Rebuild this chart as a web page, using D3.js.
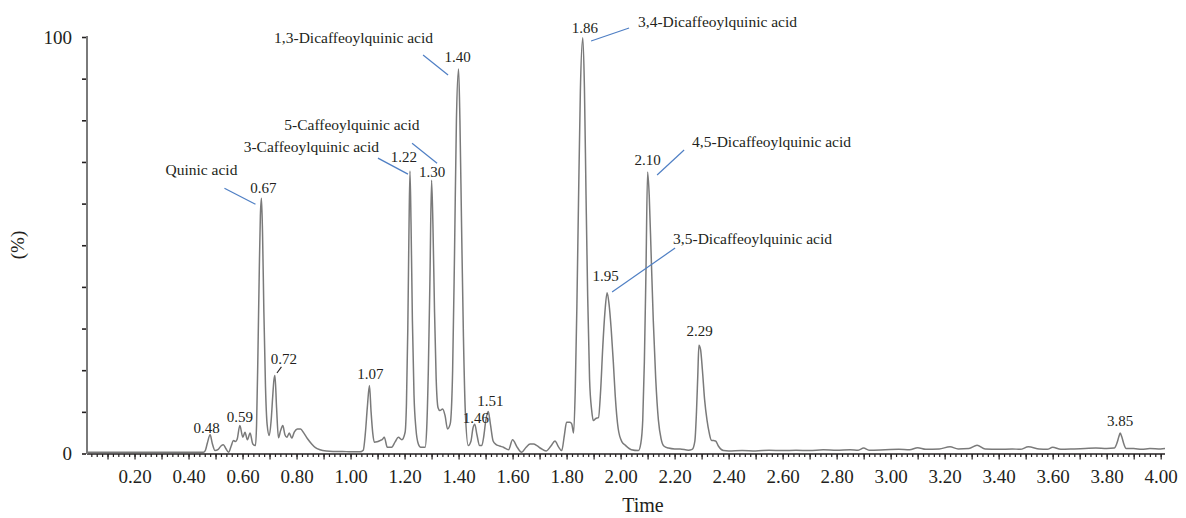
<!DOCTYPE html>
<html>
<head>
<meta charset="utf-8">
<script src="https://cdn.jsdelivr.net/npm/d3@7"></script>
<style>
  html, body { margin: 0; padding: 0; background: #fff; }
  svg { display: block; }
  text { font-family: "Liberation Serif", "Times New Roman", serif; fill: #231f20; }
</style>
</head>
<body>
<svg id="chart" width="1186" height="518"></svg>
<script>
// ---- data -------------------------------------------------------------
// Base chromatogram trace [retention time (min), relative abundance (%)],
// apex points of labelled peaks are added from the peak arrays below.
const traceBase = [
  [0.024,0.3],[0.10,0.3],[0.20,0.3],[0.30,0.3],[0.40,0.3],[0.455,0.3],
  [0.462,0.7],[0.470,2.6],[0.488,2.4],[0.498,0.7],[0.510,1.0],[0.520,1.8],[0.529,2.1],
  [0.538,1.2],[0.548,0.3],[0.558,1.8],[0.566,3.1],[0.574,2.9],[0.580,3.4],
  [0.601,3.9],[0.609,5.1],[0.618,3.3],[0.628,4.9],[0.638,2.3],[0.648,1.9],[0.652,7],
  [0.657,24],[0.662,44],[0.666,57],
  [0.674,53],[0.679,34],[0.685,16],[0.691,7],[0.699,4.3],[0.706,8],[0.712,14],[0.716,17.5],
  [0.726,11],[0.733,3.8],[0.741,5.5],[0.749,6.7],[0.757,4.5],[0.764,3.9],[0.773,4.9],
  [0.782,3.7],[0.792,5.2],[0.803,5.9],[0.815,5.9],[0.826,5.0],[0.840,3.6],[0.856,2.3],
  [0.870,1.4],[0.887,0.9],[0.910,0.6],[0.935,0.5],[0.970,0.5],[1.000,0.4],[1.035,0.4],
  [1.047,0.8],[1.055,5],[1.062,11],
  [1.076,10],[1.082,5],[1.088,2.7],[1.098,2.8],[1.109,3.1],[1.118,3.4],[1.125,3.9],
  [1.136,1.5],[1.152,1.5],[1.165,2.8],[1.177,3.9],[1.190,3.3],[1.202,5.1],[1.207,12],
  [1.212,30],[1.216,52],
  [1.224,55],[1.229,32],[1.235,14],[1.242,6],[1.251,2.3],[1.260,1.5],[1.276,1.5],
  [1.282,6],[1.288,20],[1.294,42],
  [1.305,55],[1.311,34],[1.317,18],[1.324,11],[1.331,10.3],[1.341,10.7],[1.350,9.1],
  [1.359,5.9],[1.369,7.1],[1.378,20],[1.385,48],[1.392,80],
  [1.405,80],[1.411,55],[1.418,28],[1.425,10],[1.436,1.9],[1.446,3],[1.453,6],
  [1.468,4.5],[1.478,1.9],[1.486,1.9],[1.493,4],[1.501,8],
  [1.518,7],[1.528,3],[1.538,2.2],[1.552,1.8],[1.566,1.5],[1.585,0.9],[1.600,3.3],
  [1.617,1.5],[1.634,0.3],[1.650,1.5],[1.665,2.3],[1.678,2.3],[1.690,1.9],[1.705,1.2],
  [1.724,0.6],[1.742,1.8],[1.757,3.0],[1.770,1.6],[1.782,0.7],[1.792,4.5],[1.800,7.5],
  [1.812,7.5],[1.819,7.1],[1.826,4.9],[1.832,15],[1.838,35],[1.844,60],[1.851,87],
  [1.866,88],[1.872,62],[1.878,38],[1.885,18],[1.893,10.3],[1.899,7.9],[1.908,8.4],
  [1.918,8.6],[1.926,15],[1.934,25.6],[1.942,34],
  [1.957,36],[1.965,30],[1.973,22],[1.980,14],[1.991,6],[2.005,2.8],[2.017,2.0],
  [2.040,0.9],[2.066,0.7],[2.075,2.5],[2.082,8],[2.088,22],[2.094,44],
  [2.106,62],[2.113,48],[2.121,32],[2.130,18],[2.140,8],[2.150,3.5],[2.160,1.8],
  [2.177,1.3],[2.200,1.1],[2.220,1.1],[2.251,0.8],[2.265,1.0],[2.275,3],[2.281,10],[2.286,19],
  [2.296,25],[2.303,20],[2.311,13],[2.320,8],[2.328,5],[2.336,3.2],[2.345,3.1],[2.352,3.0],
  [2.362,1.8],[2.381,0.7],[2.40,0.6],[2.45,0.7],[2.50,0.6],[2.55,0.8],[2.60,0.7],[2.65,0.8],
  [2.70,0.7],[2.75,0.9],[2.80,0.8],[2.85,0.9],[2.88,0.8],[2.90,1.3],[2.92,0.8],[2.98,0.9],
  [3.03,1.0],[3.07,0.9],[3.10,1.4],[3.13,1.0],[3.18,1.1],[3.22,1.6],[3.25,1.1],[3.29,1.2],
  [3.32,2.0],[3.35,1.1],[3.40,1.0],[3.45,1.1],[3.48,1.0],[3.51,1.6],[3.55,1.1],[3.58,1.0],
  [3.60,1.5],[3.63,1.0],[3.68,1.1],[3.72,1.2],[3.76,1.3],[3.80,1.2],[3.828,1.3],[3.838,2.5],
  [3.845,4.0],
  [3.856,4.0],[3.864,2.2],[3.872,1.2],[3.90,1.2],[3.93,1.0],[3.96,1.2],[4.00,1.1],[4.016,1.2]
];

// Labelled peaks: retention time and apex height (%)
const peakTimes   = [0.48, 0.59, 0.67, 0.72, 1.07, 1.22, 1.30, 1.40, 1.46, 1.51, 1.86, 1.95, 2.10, 2.29, 3.85];
const peakHeights = [4.5, 6.7, 61.3, 18.75, 16.3, 67.8, 65.6, 92.3, 7.0, 10.1, 99.8, 38.6, 67.6, 26.0, 4.9];

// Identified compounds and the peak each one belongs to
const compoundNames = [
  "Quinic acid", "3-Caffeoylquinic acid", "5-Caffeoylquinic acid",
  "1,3-Dicaffeoylquinic acid", "3,4-Dicaffeoylquinic acid",
  "3,5-Dicaffeoylquinic acid", "4,5-Dicaffeoylquinic acid"
];
const compoundPeaks = [0.67, 1.22, 1.30, 1.40, 1.86, 1.95, 2.10];

// Axis tick labels
const xTickLabels = ["0.20","0.40","0.60","0.80","1.00","1.20","1.40","1.60","1.80","2.00",
                     "2.20","2.40","2.60","2.80","3.00","3.20","3.40","3.60","3.80","4.00"];
const yTickLabels = ["0", "100"];

// ---- layout (pixel offsets from each peak apex) ------------------------
const peakLabelOffsets = {
  "0.48": [-3.5, -2], "0.59": [0, -4], "0.67": [2, -5], "0.72": [9, -11],
  "1.07": [1, -6.5], "1.22": [-6, -9], "1.30": [0.5, -3.5], "1.40": [-1, -7],
  "1.46": [1, -1.3], "1.51": [2, -5.4], "1.86": [2, -5], "1.95": [-1.5, -11.5],
  "2.10": [0, -7], "2.29": [0.7, -9], "3.85": [0, -7]
};
// text anchor side, text offset, leader line start, leader line end
const compoundLayout = [
  { anchor: "end",   text: [-24, -23],   a: [-37, -10],   b: [-6, 6] },
  { anchor: "end",   text: [-31, -19.5], a: [-32, -13],   b: [-2, 3] },
  { anchor: "end",   text: [-12, -50],   a: [-19.5, -37], b: [5.5, -17] },
  { anchor: "end",   text: [-25.5, -26], a: [-35.5, -14], b: [-10.5, 6] },
  { anchor: "start", text: [55.3, -10.8],a: [8.3, 3.2],   b: [46.3, -9.8] },
  { anchor: "start", text: [66, -48.7],  a: [5, -0.7],    b: [68, -44.7] },
  { anchor: "start", text: [44.5, -25],  a: [9.5, 3],     b: [36.5, -22] }
];

// ---- chart ------------------------------------------------------------
const svg = d3.select("#chart");
const x = d3.scaleLinear().domain([0.024, 4.016]).range([87, 1165]);
const y = d3.scaleLinear().domain([0, 100]).range([453.5, 37]);
const axisY = 454;

const apexes = peakTimes.map((t, i) => [t, peakHeights[i]]);
const trace = traceBase.concat(apexes).sort((p, q) => p[0] - q[0]);

// trace
const line = d3.line()
  .x(d => x(d[0]))
  .y(d => y(d[1]))
  .curve(d3.curveMonotoneX);

svg.append("path")
  .datum(trace)
  .attr("d", line)
  .attr("fill", "none")
  .attr("stroke", "#7a7a7a")
  .attr("stroke-width", 1.5)
  .attr("stroke-linejoin", "round");

// x axis: minor ticks every 0.02, longer ticks every 0.1, labels every 0.2
const minorTicks = d3.range(2, 201).map(i => +(i * 0.02).toFixed(2));
const midTicks = d3.range(1, 41).map(i => +(i * 0.1).toFixed(1));

const gxMinor = svg.append("g").attr("transform", `translate(0,${axisY})`)
  .call(d3.axisBottom(x).tickValues(minorTicks).tickSize(3).tickFormat(""));
const gxMid = svg.append("g").attr("transform", `translate(0,${axisY})`)
  .call(d3.axisBottom(x).tickValues(midTicks).tickSize(5.5).tickFormat(""));
const gxLab = svg.append("g").attr("transform", `translate(0,${axisY})`)
  .call(d3.axisBottom(x).tickValues(xTickLabels.map(Number)).tickSize(0).tickPadding(16)
        .tickFormat((d, i) => xTickLabels[i]));
[gxMinor, gxMid, gxLab].forEach(g => {
  g.select(".domain").remove();
  g.selectAll(".tick line").attr("stroke", "#231f20").attr("stroke-width", 1.2);
});
gxLab.selectAll(".tick text").style("font-size", "19px").attr("fill", "#231f20");

svg.append("line")
  .attr("x1", x(0.024)).attr("x2", x(4.016))
  .attr("y1", axisY).attr("y2", axisY)
  .attr("stroke", "#231f20").attr("stroke-width", 1.4);

// y axis
svg.append("line")
  .attr("x1", 87).attr("x2", 87)
  .attr("y1", y(100) - 1).attr("y2", axisY)
  .attr("stroke", "#7a7a7a").attr("stroke-width", 2);

const gy = svg.append("g").attr("transform", "translate(86,0)")
  .call(d3.axisLeft(y).tickValues(d3.range(0, 101, 10)).tickSize(4).tickPadding(10)
        .tickFormat(d => yTickLabels.includes(String(d)) ? String(d) : ""));
gy.select(".domain").remove();
gy.selectAll(".tick line").attr("stroke", "#231f20").attr("stroke-width", 1.6);
gy.selectAll(".tick text").style("font-size", "19px").attr("fill", "#231f20");

// axis titles
svg.append("text")
  .attr("x", 643).attr("y", 512)
  .attr("text-anchor", "middle")
  .style("font-size", "20px")
  .text("Time");

svg.append("text")
  .attr("transform", "translate(24,245) rotate(-90)")
  .attr("text-anchor", "middle")
  .style("font-size", "19px")
  .text("(%)");

// retention-time labels above peaks
const labels = svg.append("g");
peakTimes.forEach((t, i) => {
  const key = t.toFixed(2);
  const [dx, dy] = peakLabelOffsets[key];
  labels.append("text")
    .attr("x", x(t) + dx)
    .attr("y", y(peakHeights[i]) + dy)
    .attr("text-anchor", "middle")
    .style("font-size", "15px")
    .text(key);
});

// short black leader for the 0.72 label
{
  const i = peakTimes.indexOf(0.72);
  const px = x(peakTimes[i]), py = y(peakHeights[i]);
  labels.append("line")
    .attr("x1", px + 2).attr("y1", py - 2.4)
    .attr("x2", px + 6.5).attr("y2", py - 8.5)
    .attr("stroke", "#231f20").attr("stroke-width", 1.1);
}

// compound names with blue leader lines
const ann = svg.append("g");
compoundNames.forEach((name, i) => {
  const t = compoundPeaks[i];
  const h = peakHeights[peakTimes.indexOf(t)];
  const px = x(t), py = y(h);
  const L = compoundLayout[i];
  ann.append("line")
    .attr("x1", px + L.a[0]).attr("y1", py + L.a[1])
    .attr("x2", px + L.b[0]).attr("y2", py + L.b[1])
    .attr("stroke", "#4f7fc4").attr("stroke-width", 1.2);
  ann.append("text")
    .attr("x", px + L.text[0]).attr("y", py + L.text[1])
    .attr("text-anchor", L.anchor)
    .style("font-size", "15.5px")
    .text(name);
});
</script>
</body>
</html>
